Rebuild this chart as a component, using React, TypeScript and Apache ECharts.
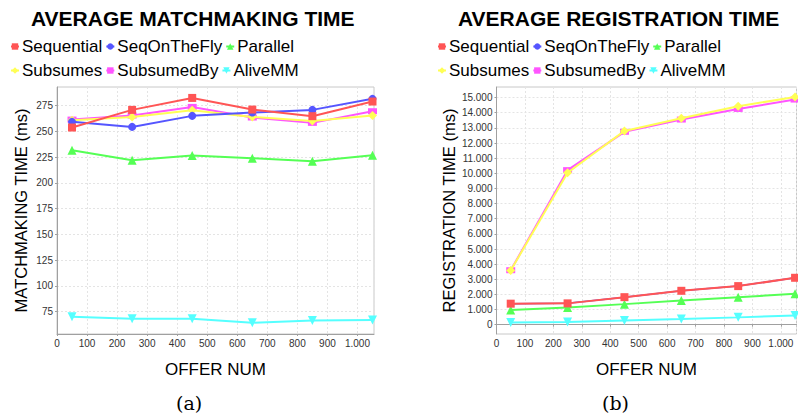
import React, { useEffect, useRef } from "react";
import * as echarts from "echarts";

const offerNum = [50, 250, 450, 650, 850, 1050];
const seriesNames = ["Sequential", "SeqOnTheFly", "Parallel", "Subsumes", "SubsumedBy", "AliveMM"];

// Average matchmaking time (ms)
const mmSequential = [253.7, 270.8, 282.4, 271.1, 264.7, 278.9];
const mmSeqOnTheFly = [259.2, 254.3, 265.0, 268.2, 270.8, 281.5];
const mmParallel = [231.7, 222.0, 226.5, 224.0, 221.0, 226.9];
const mmSubsumes = [260.8, 264.0, 270.5, 264.0, 260.1, 265.3];
const mmSubsumedBy = [261.4, 265.3, 273.7, 263.4, 258.2, 269.5];
const mmAliveMM = [70.2, 68.2, 68.2, 64.3, 66.6, 66.9];

// Average registration time (ms)
const regSequential = [1390, 1410, 1820, 2240, 2550, 3100];
const regSeqOnTheFly = [1390, 1410, 1820, 2240, 2550, 3100];
const regParallel = [970, 1140, 1360, 1600, 1820, 2040];
const regSubsumes = [3580, 10040, 12800, 13640, 14430, 15040];
const regSubsumedBy = [3600, 10210, 12740, 13550, 14250, 14870];
const regAliveMM = [150, 175, 285, 375, 485, 615];

const mmTicks = [75, 100, 125, 150, 175, 200, 225, 250, 275];
const regTicks = [0, 1000, 2000, 3000, 4000, 5000, 6000, 7000, 8000, 9000, 10000, 11000, 12000, 13000, 14000, 15000];

const colors = ["#FF5555", "#5555FF", "#55FF55", "#FFFF55", "#FF55FF", "#55FFFF"];
const symbols: any[] = ["rect", "circle", "triangle", "diamond", "rect", "triangle"];
const symbolSizes: any[] = [8, 8, 9, 9, [9, 6], 9];
const symbolRotates = [0, 0, 0, 0, 0, 180];

const FONT = "Liberation Sans";

const dotFmt = (v: number) => String(Math.round(v)).replace(/\B(?=(\d{3})+(?!\d))/g, ".");

export default function App() {
  const ref = useRef<HTMLDivElement>(null);
  useEffect(() => {
    if (!ref.current) return;
    const chart = echarts.init(ref.current, undefined, { renderer: "svg" });

    const mmData = [mmSequential, mmSeqOnTheFly, mmParallel, mmSubsumes, mmSubsumedBy, mmAliveMM];
    const regData = [regSequential, regSeqOnTheFly, regParallel, regSubsumes, regSubsumedBy, regAliveMM];

    const mkSeries = (data: number[][], axis: number) =>
      seriesNames
        .map((name, i) => ({
          name,
          type: "line",
          xAxisIndex: axis,
          yAxisIndex: axis,
          data: offerNum.map((x, j) => [x, data[i][j]]),
          symbol: symbols[i],
          symbolSize: axis === 1 && i === 1 ? 6 : symbolSizes[i],
          symbolRotate: symbolRotates[i],
          showAllSymbol: true,
          lineStyle: { color: colors[i], width: axis === 1 && i === 1 ? 1.5 : 2 },
          itemStyle: { color: colors[i] },
          z: 10 - i,
        }))
        .reverse();

    const xAxisBase = (gridIndex: number) => ({
      type: "value",
      gridIndex,
      min: 0,
      max: 1055,
      interval: 100,
      name: "OFFER NUM",
      nameLocation: "middle",
      nameGap: 27,
      nameTextStyle: { fontFamily: FONT, fontSize: 17, color: "#000" },
      axisLine: { show: true, lineStyle: { color: "#a0a0a0" } },
      axisTick: { show: true, length: 2, lineStyle: { color: "#a0a0a0" } },
      axisLabel: { formatter: dotFmt, fontFamily: FONT, fontSize: 10, color: "#333", margin: 4 },
      splitLine: { show: true, lineStyle: { color: "#e4e4e4", type: [2, 2] } },
    });

    const legendBase = (left: number, top: number, data: string[]) => ({
      left,
      top,
      padding: 0,
      itemGap: 3,
      itemWidth: 8,
      itemHeight: 8,
      data,
      textStyle: { fontFamily: FONT, fontSize: 17, color: "#000", padding: [0, 0, 0, -2] },
    });

    chart.setOption({
      animation: false,
      backgroundColor: "#fff",
      title: [
        {
          text: "AVERAGE MATCHMAKING TIME",
          left: 31,
          top: 8,
          padding: 0,
          textStyle: { fontFamily: FONT, fontSize: 21, fontWeight: "bold", color: "#000" },
        },
        {
          text: "AVERAGE REGISTRATION TIME",
          left: 458,
          top: 8,
          padding: 0,
          textStyle: { fontFamily: FONT, fontSize: 21, fontWeight: "bold", color: "#000" },
        },
      ],
      legend: [
        legendBase(10, 38, ["Sequential", "SeqOnTheFly", "Parallel"]),
        legendBase(10, 62, ["Subsumes", "SubsumedBy", "AliveMM"]),
        legendBase(437, 38, ["Sequential", "SeqOnTheFly", "Parallel"]),
        legendBase(437, 62, ["Subsumes", "SubsumedBy", "AliveMM"]),
      ],
      grid: [
        { left: 57, top: 87, width: 317, height: 247, show: true, borderColor: "#c8c8c8", backgroundColor: "#fff" },
        { left: 496.5, top: 87, width: 300, height: 247, show: true, borderColor: "#c8c8c8", backgroundColor: "#fff" },
      ],
      xAxis: [xAxisBase(0), xAxisBase(1)],
      yAxis: [
        {
          type: "value",
          gridIndex: 0,
          min: 53.4,
          max: 293,
          name: "MATCHMAKING TIME (ms)",
          nameLocation: "middle",
          nameGap: 28,
          nameTextStyle: { fontFamily: FONT, fontSize: 16.5, color: "#000" },
          axisLine: { show: true, lineStyle: { color: "#a0a0a0" } },
          axisTick: { show: true, length: 2, customValues: mmTicks, lineStyle: { color: "#a0a0a0" } },
          axisLabel: { customValues: mmTicks, fontFamily: FONT, fontSize: 10, color: "#333", margin: 4 },
          splitLine: { show: true, lineStyle: { color: "#e4e4e4", type: [2, 2] } },
        },
        {
          type: "value",
          gridIndex: 1,
          min: -613,
          max: 15700,
          name: "REGISTRATION TIME (ms)",
          nameLocation: "middle",
          nameGap: 39,
          nameTextStyle: { fontFamily: FONT, fontSize: 16.5, color: "#000" },
          axisLine: { show: true, lineStyle: { color: "#a0a0a0" } },
          axisTick: { show: true, length: 2, customValues: regTicks, lineStyle: { color: "#a0a0a0" } },
          axisLabel: { customValues: regTicks, formatter: dotFmt, fontFamily: FONT, fontSize: 10, color: "#333", margin: 4 },
          splitLine: { show: true, lineStyle: { color: "#e4e4e4", type: [2, 2] } },
        },
      ],
      graphic: [
        {
          type: "text",
          left: 176,
          top: 393,
          style: { text: "(a)", fontFamily: "DejaVu Serif", fontSize: 19, fill: "#000" },
        },
        {
          type: "text",
          left: 602,
          top: 393,
          style: { text: "(b)", fontFamily: "DejaVu Serif", fontSize: 19, fill: "#000" },
        },
      ],
      series: [...mkSeries(mmData, 0), ...mkSeries(regData, 1)],
    });

    return () => chart.dispose();
  }, []);

  return <div ref={ref} style={{ width: 798, height: 415, position: "absolute", left: 0, top: 0 }} />;
}
